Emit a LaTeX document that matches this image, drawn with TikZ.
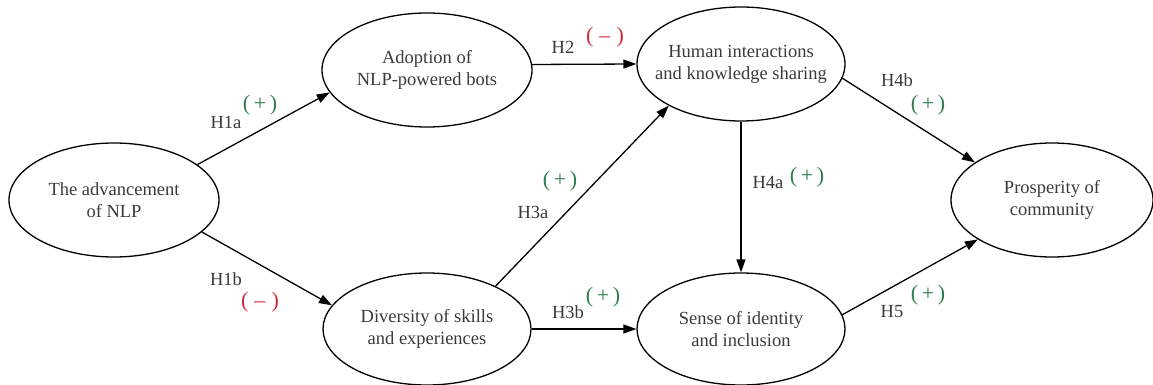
\documentclass[tikz,border=0pt]{standalone}
\usepackage{fontspec}
\setmainfont{Liberation Serif}
\usetikzlibrary{shapes.geometric,arrows.meta}
\definecolor{txt}{HTML}{3A3A3A}
\definecolor{plusg}{HTML}{2E7D4F}
\definecolor{minusr}{HTML}{D0283C}
\tikzset{
  construct/.style={draw=black, line width=1.3pt, ellipse, inner sep=0pt},
  ctext/.style={align=center, text=txt, font=\fontsize{18.5}{22}\selectfont, inner sep=0pt},
  link/.style={line width=1.3pt, -{Triangle[length=13pt,width=9pt]}},
  hlab/.style={text=txt, font=\fontsize{18.5}{20}\selectfont, inner sep=0pt},
  possign/.style={text=plusg, font=\fontsize{22}{24}\selectfont, inner sep=0pt},
  negsign/.style={text=minusr, font=\fontsize{22}{24}\selectfont, inner sep=0pt}
}
\newcommand{\plussign}{(\,+\,)}
\newcommand{\minussign}{(\;–\;)}
\begin{document}
\begin{tikzpicture}[x=1pt,y=-1pt]
\useasboundingbox (0,0) rectangle (1153,385);
\node[construct, minimum width=210pt, minimum height=114pt,
  label={[ctext]center:The advancement\\of NLP}] (nlp) at (114,200) {};
\node[construct, minimum width=210pt, minimum height=114pt,
  label={[ctext]center:Adoption of\\NLP-powered bots}] (adopt) at (427,70) {};
\node[construct, minimum width=208pt, minimum height=112pt,
  label={[ctext]center:Diversity of skills\\and experiences}] (div) at (427,329) {};
\node[construct, minimum width=208pt, minimum height=114pt,
  label={[ctext]center:Human interactions\\and knowledge sharing}] (human) at (741,64) {};
\node[construct, minimum width=208pt, minimum height=112pt,
  label={[ctext]center:Sense of identity\\and inclusion}] (sense) at (741,329) {};
\node[construct, minimum width=202pt, minimum height=114pt,
  label={[ctext]center:Prosperity of\\community}] (pros) at (1052,200) {};

\draw[link] (nlp.23) -- (adopt.193);
\draw[link] (nlp.-20) -- (div.166);
\draw[link] (adopt.3) -- (human.180);
\draw[link] (div.32) -- (human.210);
\draw[link] (div.east) -- (sense.west);
\draw[link] (human.south) -- (sense.north);
\draw[link] (human.-8) -- (pros.154);
\draw[link] (sense.8) -- (pros.208);

\node[hlab] (l1a) at (226,122) {H1a};
\node[possign] (s1a) at (260,105) {\plussign};
\node[hlab] (l1b) at (226,279) {H1b};
\node[negsign] (s1b) at (260,302) {\minussign};
\node[hlab] (l2) at (563,47) {H2};
\node[negsign] (s2) at (605,37) {\minussign};
\node[hlab] (l3a) at (533,212) {H3a};
\node[possign] (s3a) at (560,181) {\plussign};
\node[hlab] (l3b) at (568,312) {H3b};
\node[possign] (s3b) at (603,297) {\plussign};
\node[hlab] (l4a) at (768,183) {H4a};
\node[possign] (s4a) at (807,177) {\plussign};
\node[hlab] (l4b) at (897,80) {H4b};
\node[possign] (s4b) at (928,105) {\plussign};
\node[hlab] (l5) at (892,312) {H5};
\node[possign] (s5) at (928,295) {\plussign};
\end{tikzpicture}
\end{document}
